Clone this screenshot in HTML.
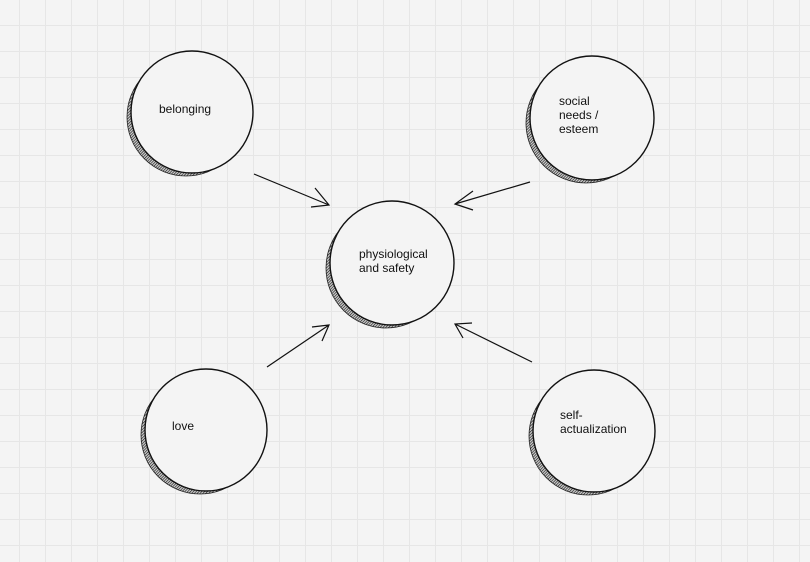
<!DOCTYPE html>
<html><head><style>
html,body{margin:0;padding:0}
body{width:810px;height:562px;overflow:hidden;background:#f4f4f4;
background-image:linear-gradient(to right,#e6e6e6 1px,transparent 1px),linear-gradient(to bottom,#e6e6e6 1px,transparent 1px);
background-size:26px 26px;background-position:19px 25px;}
svg{position:absolute;left:0;top:0}
text{font-family:"Liberation Sans",sans-serif;font-size:12px;fill:#111}
</style></head><body>
<svg width="810" height="562" viewBox="0 0 810 562">
<defs>
<pattern id="h" width="2" height="2" patternUnits="userSpaceOnUse" patternTransform="rotate(45)">
<rect width="3" height="3" fill="#ccc"/><line x1="0" y1="0" x2="0" y2="3" stroke="#111" stroke-width="1.2"/>
</pattern>
</defs>
<g stroke="#111" stroke-width="1.4" fill="none">
<circle cx="186" cy="117" r="59" fill="url(#h)" stroke="#222" stroke-width="0.8"/>
<circle cx="192" cy="112" r="61" fill="#f4f4f4"/>
<circle cx="586" cy="123" r="60" fill="url(#h)" stroke="#222" stroke-width="0.8"/>
<circle cx="592" cy="118" r="62" fill="#f4f4f4"/>
<circle cx="386" cy="268" r="60" fill="url(#h)" stroke="#222" stroke-width="0.8"/>
<circle cx="392" cy="263" r="62" fill="#f4f4f4"/>
<circle cx="200" cy="435" r="59" fill="url(#h)" stroke="#222" stroke-width="0.8"/>
<circle cx="206" cy="430" r="61" fill="#f4f4f4"/>
<circle cx="588" cy="436" r="59" fill="url(#h)" stroke="#222" stroke-width="0.8"/>
<circle cx="594" cy="431" r="61" fill="#f4f4f4"/>
<g stroke-width="1.2">
<path d="M254 174 L329 205 M315 188 L329 205 L311 207"/>
<path d="M530 182 L455 204 M473 191 L455 204 L473 210"/>
<path d="M267 367 L329 325 M312 327 L329 325 L322 341"/>
<path d="M532 362 L455 324 M463 338 L455 324 L472 323"/>
</g>
</g>
<text x="159" y="113">belonging</text>
<text x="559" y="105">social</text>
<text x="559" y="119">needs /</text>
<text x="559" y="133">esteem</text>
<text x="359" y="258">physiological</text>
<text x="359" y="272">and safety</text>
<text x="172" y="430">love</text>
<text x="560" y="419">self-</text>
<text x="560" y="433">actualization</text>
</svg>
</body></html>
